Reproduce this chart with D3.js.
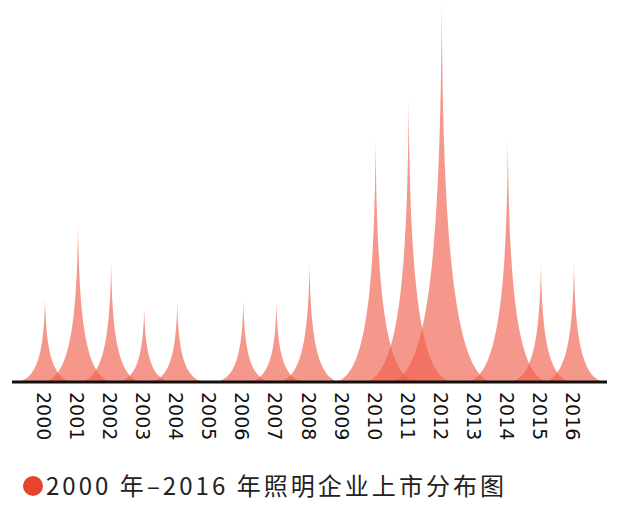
<!DOCTYPE html><html><head><meta charset="utf-8"><script src="https://cdn.jsdelivr.net/npm/d3@7"></script>
<style>body{margin:0;background:#fff}</style></head><body><svg id="c" width="619" height="508"></svg>
<script>
const years=["2000","2001","2002","2003","2004","2005","2006","2007","2008","2009","2010","2011","2012","2013","2014","2015","2016"];
const counts=[2.1,4,3,1.85,2,0,2.05,2,3,0,6.1,7.1,9.6,0,6.1,3,3];
const title="2000 年–2016 年照明企业上市分布图";
const svg=d3.select("#c");
const base=382;
const x=d3.scalePoint().domain(years).range([45,574]);
const y=d3.scaleLinear().domain([0,9.6]).range([base,0]);
const step=x.step();
svg.append("g").selectAll("path").data(years.map((d,i)=>({d,v:counts[i]})).filter(o=>o.v>0)).join("path")
 .attr("d",o=>{const cx=x(o.d),t=y(o.v),h=base-t,w=step*(0.75+o.v*0.09);
   return `M${cx-w},${base}C${cx-w*0.25},${base} ${cx-1},${base-h*0.35} ${cx},${t}C${cx+1},${base-h*0.35} ${cx+w*0.25},${base} ${cx+w},${base}Z`;})
 .attr("fill","#f0604c").attr("fill-opacity",0.65);
svg.append("line").attr("x1",12).attr("x2",607).attr("y1",base).attr("y2",base).attr("stroke","#111").attr("stroke-width",3);
svg.append("g").selectAll("text").data(years).join("text")
 .attr("transform",d=>`translate(${x(d)-8},392) rotate(90)`).attr("font-family","DejaVu Sans").attr("font-size",19).attr("fill","#111").text(d=>d);
svg.append("circle").attr("cx",33).attr("cy",486).attr("r",10).attr("fill","#e8432d");
svg.append("text").attr("x",46).attr("y",495).attr("font-family","Noto Sans CJK SC").attr("font-size",24).attr("textLength",458).attr("lengthAdjust","spacing").attr("fill","#222").text(title);
</script></body></html>
